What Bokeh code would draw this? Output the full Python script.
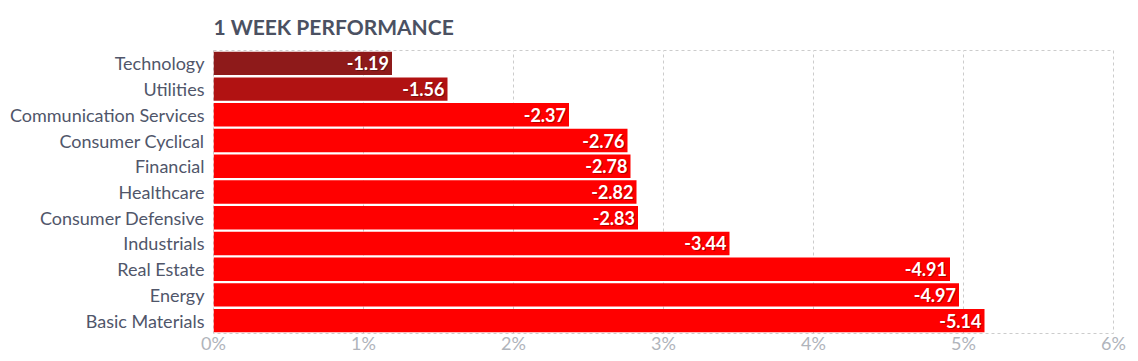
from bokeh.plotting import figure
from bokeh.models import ColumnDataSource, FactorRange, Range1d, FixedTicker, PrintfTickFormatter
from bokeh.core.properties import value
from bokeh.embed import file_html
from bokeh.resources import INLINE

categories = ["Technology", "Utilities", "Communication Services", "Consumer Cyclical",
              "Financial", "Healthcare", "Consumer Defensive", "Industrials",
              "Real Estate", "Energy", "Basic Materials"]
changes = [-1.19, -1.56, -2.37, -2.76, -2.78, -2.82, -2.83, -3.44, -4.91, -4.97, -5.14]
colors = ["#8e1a1a", "#b11212"] + ["#ff0000"] * 9
ticks = [0, 1, 2, 3, 4, 5, 6]

src = ColumnDataSource(dict(
    cat=categories,
    mag=[abs(v) for v in changes],
    label=["%.2f" % v for v in changes],
    color=colors,
))

p = figure(width=1138, height=361, output_backend="svg", toolbar_location=None,
           y_range=FactorRange(factors=list(reversed(categories)), range_padding=0),
           x_range=Range1d(0, 6),
           min_border_left=213, min_border_right=25, min_border_top=49, min_border_bottom=28)

p.title.text = "1 WEEK PERFORMANCE"
p.title.text_font = "Lato"
p.title.text_font_size = "21px"
p.title.text_font_style = "bold"
p.title.text_color = "#4b5162"
p.title.align = "left"
p.title.standoff = 23
p.title.offset = 0

p.hbar(y="cat", right="mag", left=0, height=0.91, fill_color="color", line_color=None, source=src)

p.text(x="mag", y="cat", text="label", source=src, x_offset=-2, y_offset=1,
       text_align="right", text_baseline="middle", text_color="#000000", text_alpha=0.3,
       text_font=value("Lato"), text_font_size="18px", text_font_style="bold")
p.text(x="mag", y="cat", text="label", source=src, x_offset=-3,
       text_align="right", text_baseline="middle", text_color="#ffffff",
       text_font=value("Lato"), text_font_size="18px", text_font_style="bold")

p.xaxis.ticker = FixedTicker(ticks=ticks)
p.xaxis.formatter = PrintfTickFormatter(format="%d%%")
p.xaxis.major_label_text_font = "Lato"
p.xaxis.major_label_text_font_size = "18px"
p.xaxis.major_label_text_color = "#b0b4bb"
p.xaxis.axis_line_color = None
p.xaxis.major_tick_line_color = None
p.xaxis.minor_tick_line_color = None
p.xaxis.major_tick_out = 0
p.xaxis.major_tick_in = 0
p.xaxis.minor_tick_out = 0
p.xaxis.major_label_standoff = -2

p.yaxis.major_label_text_font = "Lato"
p.yaxis.major_label_text_font_size = "18px"
p.yaxis.major_label_text_color = "#50566a"
p.yaxis.axis_line_color = None
p.yaxis.major_tick_line_color = None
p.yaxis.minor_tick_line_color = None
p.yaxis.major_tick_out = 0
p.yaxis.major_tick_in = 0
p.yaxis.minor_tick_out = 0
p.yaxis.major_label_standoff = 9

p.ygrid.grid_line_color = None
p.xgrid.grid_line_color = "#cccccc"
p.xgrid.grid_line_dash = "3 3"
p.outline_line_color = "#cccccc"
p.outline_line_dash = "3 3"
p.outline_line_width = 1
p.background_fill_color = "white"
p.border_fill_color = "white"

open("out.html", "w").write(file_html(p, INLINE))
